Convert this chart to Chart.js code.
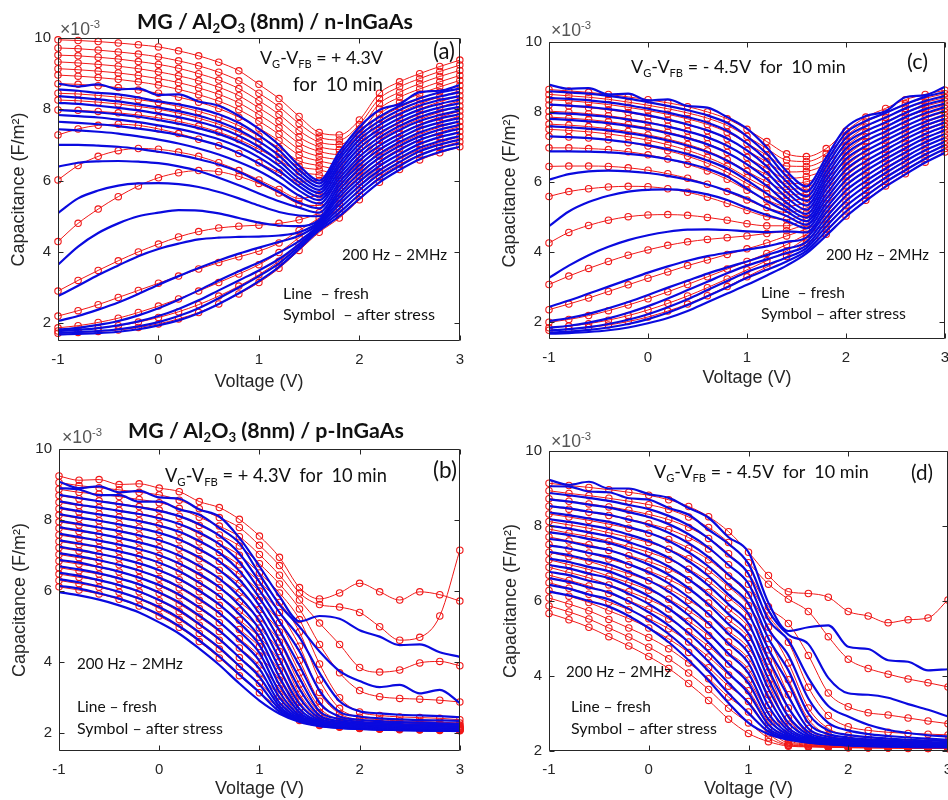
<!DOCTYPE html>
<html>
<head>
<meta charset="utf-8">
<title>C-V after stress</title>
<script src="https://cdn.jsdelivr.net/npm/chart.js@4.4.1/dist/chart.umd.min.js"></script>
<style>
    html, body { margin: 0; padding: 0; width: 948px; height: 800px; overflow: hidden; background: #fff; }
    canvas { position: absolute; }
    .lbl { position: absolute; white-space: nowrap; font-family: Lato, "Open Sans", sans-serif; color: #111; line-height: 1; }
    .lbl sub { font-size: 62%; vertical-align: -0.32em; line-height: 0; }
    .lbl sup { font-size: 64%; vertical-align: 0.6em; line-height: 0; }
    .ttl { font-weight: bold; }
    .exp { font-family: "Liberation Sans", Arial, sans-serif; color: #555; }
</style>
</head>
<body>
<canvas id="panelA" width="474" height="400" style="left:0;top:0"></canvas>
<canvas id="panelC" width="500" height="400" style="left:474px;top:0"></canvas>
<canvas id="panelB" width="474" height="400" style="left:0;top:400px"></canvas>
<canvas id="panelD" width="500" height="400" style="left:474px;top:400px"></canvas>
<script>
// gate voltage sweep (V)
const voltage = [-1, -0.8, -0.6, -0.4, -0.2, 0, 0.2, 0.4, 0.6, 0.8, 1, 1.2, 1.4, 1.6, 1.8, 2, 2.2, 2.4, 2.6, 2.8, 3];
const xTicks = [-1, 0, 1, 2, 3];
const yTicks = [2, 4, 6, 8, 10];

// (a) n-InGaAs, +4.3V stress  (x1e-3 F/m2, 200 Hz ... 2 MHz)
const freshA = [
    [8.72, 8.64, 8.7, 8.56, 8.58, 8.4, 8.42, 8.22, 8.1, 7.82, 7.45, 7.0, 6.42, 6.0, 6.8, 7.5, 7.98, 8.15, 8.48, 8.52, 8.68],
    [8.56, 8.52, 8.46, 8.42, 8.33, 8.22, 8.14, 8.02, 7.86, 7.62, 7.27, 6.85, 6.3, 5.92, 6.69, 7.38, 7.79, 8.09, 8.31, 8.47, 8.58],
    [8.37, 8.33, 8.28, 8.22, 8.14, 8.05, 7.95, 7.82, 7.65, 7.42, 7.1, 6.7, 6.18, 5.83, 6.59, 7.26, 7.67, 7.98, 8.21, 8.36, 8.48],
    [8.18, 8.15, 8.1, 8.04, 7.97, 7.88, 7.78, 7.65, 7.49, 7.26, 6.95, 6.55, 6.06, 5.74, 6.48, 7.15, 7.56, 7.86, 8.1, 8.26, 8.37],
    [7.98, 7.95, 7.91, 7.86, 7.79, 7.7, 7.6, 7.47, 7.31, 7.09, 6.8, 6.42, 5.95, 5.65, 6.38, 7.03, 7.44, 7.75, 7.99, 8.15, 8.27],
    [7.84, 7.81, 7.77, 7.71, 7.64, 7.55, 7.45, 7.32, 7.16, 6.94, 6.65, 6.28, 5.84, 5.55, 6.27, 6.91, 7.33, 7.64, 7.89, 8.05, 8.17],
    [7.65, 7.62, 7.58, 7.53, 7.46, 7.38, 7.28, 7.15, 6.99, 6.77, 6.48, 6.13, 5.72, 5.45, 6.16, 6.79, 7.21, 7.53, 7.78, 7.95, 8.07],
    [7.44, 7.41, 7.37, 7.32, 7.24, 7.15, 7.04, 6.9, 6.73, 6.52, 6.27, 5.95, 5.58, 5.35, 6.06, 6.67, 7.1, 7.42, 7.67, 7.84, 7.97],
    [7.0, 7.0, 6.98, 6.95, 6.89, 6.81, 6.72, 6.6, 6.45, 6.25, 5.97, 5.68, 5.38, 5.22, 5.95, 6.56, 6.98, 7.3, 7.56, 7.74, 7.86],
    [6.39, 6.5, 6.54, 6.55, 6.53, 6.49, 6.4, 6.27, 6.08, 5.87, 5.64, 5.42, 5.24, 5.1, 5.85, 6.44, 6.87, 7.19, 7.46, 7.63, 7.76],
    [5.09, 5.5, 5.72, 5.86, 5.92, 5.93, 5.9, 5.82, 5.68, 5.5, 5.3, 5.12, 5.02, 5.0, 5.74, 6.32, 6.75, 7.08, 7.35, 7.53, 7.66],
    [3.64, 4.15, 4.53, 4.8, 5.0, 5.1, 5.17, 5.16, 5.08, 4.95, 4.82, 4.74, 4.72, 4.9, 5.63, 6.2, 6.64, 6.97, 7.24, 7.43, 7.56],
    [2.76, 3.05, 3.35, 3.62, 3.88, 4.08, 4.23, 4.35, 4.4, 4.42, 4.43, 4.46, 4.55, 4.85, 5.53, 6.08, 6.52, 6.86, 7.14, 7.32, 7.46],
    [2.06, 2.2, 2.38, 2.58, 2.82, 3.08, 3.32, 3.55, 3.76, 3.95, 4.12, 4.28, 4.45, 4.8, 5.42, 5.97, 6.41, 6.74, 7.03, 7.22, 7.35],
    [1.82, 1.87, 1.95, 2.06, 2.22, 2.42, 2.66, 2.92, 3.2, 3.46, 3.7, 3.98, 4.3, 4.75, 5.32, 5.85, 6.29, 6.63, 6.92, 7.11, 7.25],
    [1.78, 1.81, 1.86, 1.94, 2.05, 2.2, 2.4, 2.64, 2.92, 3.2, 3.48, 3.8, 4.22, 4.7, 5.21, 5.73, 6.18, 6.52, 6.82, 7.01, 7.15],
    [1.73, 1.75, 1.78, 1.83, 1.91, 2.03, 2.2, 2.42, 2.7, 3.0, 3.32, 3.68, 4.15, 4.65, 5.1, 5.61, 6.06, 6.41, 6.71, 6.91, 7.05],
    [1.68, 1.7, 1.72, 1.76, 1.83, 1.94, 2.08, 2.28, 2.54, 2.84, 3.18, 3.58, 4.08, 4.6, 5.0, 5.49, 5.95, 6.3, 6.6, 6.8, 6.95]
];
const stressA = [
    [9.95, 9.93, 9.9, 9.86, 9.81, 9.75, 9.64, 9.5, 9.32, 9.08, 8.7, 8.3, 7.8, 7.35, 7.28, 7.7, 8.45, 8.77, 9.0, 9.2, 9.38],
    [9.72, 9.7, 9.66, 9.61, 9.55, 9.47, 9.36, 9.22, 9.04, 8.8, 8.45, 8.07, 7.6, 7.22, 7.14, 7.57, 8.3, 8.63, 8.86, 9.06, 9.24],
    [9.52, 9.5, 9.46, 9.41, 9.34, 9.26, 9.15, 9.0, 8.82, 8.58, 8.24, 7.86, 7.4, 7.08, 7.01, 7.44, 8.16, 8.48, 8.72, 8.92, 9.09],
    [9.33, 9.3, 9.26, 9.21, 9.14, 9.05, 8.94, 8.8, 8.62, 8.38, 8.04, 7.67, 7.22, 6.95, 6.87, 7.3, 8.01, 8.34, 8.57, 8.77, 8.95],
    [9.14, 9.11, 9.07, 9.02, 8.95, 8.86, 8.75, 8.6, 8.42, 8.18, 7.85, 7.48, 7.05, 6.82, 6.73, 7.17, 7.86, 8.19, 8.43, 8.63, 8.81],
    [8.96, 8.93, 8.89, 8.84, 8.77, 8.68, 8.56, 8.41, 8.23, 7.99, 7.67, 7.3, 6.88, 6.68, 6.6, 7.04, 7.72, 8.05, 8.29, 8.49, 8.67],
    [8.72, 8.7, 8.66, 8.61, 8.54, 8.45, 8.34, 8.2, 8.02, 7.78, 7.47, 7.12, 6.72, 6.55, 6.46, 6.91, 7.57, 7.9, 8.15, 8.35, 8.52],
    [8.45, 8.43, 8.39, 8.34, 8.27, 8.19, 8.08, 7.94, 7.77, 7.54, 7.25, 6.92, 6.55, 6.42, 6.32, 6.78, 7.42, 7.76, 8.01, 8.21, 8.38],
    [8.26, 8.24, 8.2, 8.15, 8.08, 8.0, 7.89, 7.75, 7.58, 7.36, 7.08, 6.75, 6.4, 6.3, 6.18, 6.64, 7.27, 7.61, 7.86, 8.06, 8.24],
    [7.98, 7.97, 7.94, 7.9, 7.84, 7.76, 7.66, 7.53, 7.36, 7.15, 6.88, 6.57, 6.25, 6.16, 6.05, 6.51, 7.13, 7.47, 7.72, 7.92, 8.09],
    [7.28, 7.45, 7.55, 7.58, 7.55, 7.45, 7.32, 7.16, 6.98, 6.76, 6.5, 6.22, 5.98, 6.0, 5.91, 6.38, 6.98, 7.32, 7.58, 7.78, 7.95],
    [6.02, 6.42, 6.68, 6.84, 6.9, 6.88, 6.8, 6.68, 6.5, 6.28, 6.02, 5.75, 5.5, 5.6, 5.77, 6.25, 6.83, 7.18, 7.44, 7.64, 7.81],
    [4.29, 4.8, 5.2, 5.55, 5.85, 6.08, 6.22, 6.28, 6.25, 6.12, 5.92, 5.65, 5.35, 5.3, 5.64, 6.12, 6.69, 7.03, 7.3, 7.5, 7.66],
    [2.9, 3.2, 3.48, 3.75, 4.0, 4.22, 4.42, 4.57, 4.67, 4.72, 4.75, 4.8, 4.9, 5.1, 5.5, 5.98, 6.54, 6.89, 7.15, 7.35, 7.52],
    [2.2, 2.35, 2.52, 2.72, 2.92, 3.12, 3.32, 3.52, 3.7, 3.86, 4.02, 4.25, 4.6, 4.95, 5.36, 5.85, 6.39, 6.74, 7.01, 7.21, 7.38],
    [1.87, 1.93, 2.02, 2.14, 2.3, 2.48, 2.68, 2.9, 3.14, 3.38, 3.64, 3.98, 4.4, 4.8, 5.23, 5.72, 6.25, 6.6, 6.87, 7.07, 7.23],
    [1.78, 1.81, 1.86, 1.93, 2.03, 2.16, 2.32, 2.52, 2.76, 3.04, 3.36, 3.74, 4.2, 4.68, 5.09, 5.59, 6.1, 6.45, 6.73, 6.93, 7.09],
    [1.72, 1.74, 1.77, 1.81, 1.88, 1.98, 2.12, 2.3, 2.54, 2.82, 3.14, 3.54, 4.04, 4.55, 4.95, 5.46, 5.95, 6.31, 6.58, 6.78, 6.95]
];

// (c) n-InGaAs, -4.5V stress
const freshC = [
    [8.78, 8.66, 8.68, 8.5, 8.52, 8.33, 8.36, 8.17, 8.12, 7.85, 7.52, 6.98, 6.3, 5.87, 6.7, 7.55, 7.88, 8.02, 8.42, 8.48, 8.72],
    [8.59, 8.56, 8.52, 8.46, 8.38, 8.28, 8.17, 8.05, 7.9, 7.68, 7.3, 6.8, 6.15, 5.72, 6.57, 7.4, 7.74, 7.97, 8.22, 8.43, 8.57],
    [8.4, 8.37, 8.33, 8.27, 8.19, 8.09, 7.98, 7.85, 7.69, 7.46, 7.1, 6.62, 6.0, 5.58, 6.44, 7.25, 7.59, 7.84, 8.1, 8.31, 8.46],
    [8.21, 8.18, 8.14, 8.08, 8.0, 7.9, 7.78, 7.64, 7.47, 7.24, 6.9, 6.44, 5.85, 5.45, 6.3, 7.1, 7.45, 7.7, 7.97, 8.2, 8.35],
    [7.97, 7.95, 7.91, 7.86, 7.78, 7.69, 7.58, 7.44, 7.27, 7.03, 6.7, 6.26, 5.7, 5.32, 6.17, 6.95, 7.31, 7.57, 7.85, 8.08, 8.24],
    [7.8, 7.77, 7.73, 7.68, 7.6, 7.51, 7.39, 7.25, 7.07, 6.83, 6.5, 6.08, 5.55, 5.2, 6.04, 6.8, 7.17, 7.44, 7.72, 7.96, 8.14],
    [7.59, 7.56, 7.52, 7.47, 7.39, 7.3, 7.18, 7.03, 6.85, 6.6, 6.27, 5.88, 5.4, 5.08, 5.91, 6.65, 7.02, 7.31, 7.59, 7.84, 8.03],
    [7.3, 7.28, 7.25, 7.2, 7.13, 7.04, 6.93, 6.79, 6.61, 6.38, 6.04, 5.66, 5.27, 4.97, 5.78, 6.5, 6.88, 7.18, 7.47, 7.72, 7.92],
    [6.87, 6.87, 6.86, 6.84, 6.8, 6.74, 6.65, 6.53, 6.37, 6.15, 5.8, 5.45, 5.15, 4.87, 5.64, 6.35, 6.74, 7.04, 7.34, 7.61, 7.81],
    [6.06, 6.22, 6.3, 6.32, 6.3, 6.25, 6.17, 6.06, 5.92, 5.74, 5.52, 5.25, 5.02, 4.77, 5.51, 6.2, 6.59, 6.91, 7.22, 7.49, 7.7],
    [4.73, 5.15, 5.42, 5.6, 5.72, 5.77, 5.78, 5.74, 5.64, 5.48, 5.25, 5.05, 4.88, 4.67, 5.38, 6.05, 6.45, 6.78, 7.09, 7.37, 7.59],
    [3.25, 3.6, 3.9, 4.14, 4.33, 4.47, 4.57, 4.63, 4.64, 4.62, 4.58, 4.56, 4.58, 4.55, 5.25, 5.9, 6.31, 6.65, 6.96, 7.25, 7.48],
    [2.42, 2.6, 2.8, 3.0, 3.2, 3.4, 3.58, 3.74, 3.87, 3.97, 4.06, 4.15, 4.28, 4.4, 5.12, 5.75, 6.16, 6.52, 6.84, 7.13, 7.37],
    [2.01, 2.1, 2.22, 2.38, 2.56, 2.76, 2.97, 3.17, 3.37, 3.55, 3.72, 3.9, 4.08, 4.28, 4.98, 5.6, 6.02, 6.38, 6.71, 7.02, 7.26],
    [1.82, 1.88, 1.97, 2.09, 2.25, 2.44, 2.66, 2.9, 3.14, 3.38, 3.6, 3.78, 3.96, 4.18, 4.85, 5.45, 5.88, 6.25, 6.59, 6.9, 7.15],
    [1.74, 1.78, 1.84, 1.93, 2.05, 2.21, 2.41, 2.64, 2.9, 3.16, 3.42, 3.62, 3.83, 4.1, 4.72, 5.3, 5.73, 6.12, 6.46, 6.78, 7.05],
    [1.68, 1.71, 1.76, 1.83, 1.93, 2.07, 2.25, 2.47, 2.72, 2.98, 3.25, 3.48, 3.72, 4.02, 4.59, 5.15, 5.59, 5.99, 6.33, 6.66, 6.94],
    [1.65, 1.67, 1.7, 1.75, 1.83, 1.95, 2.1, 2.3, 2.55, 2.8, 3.05, 3.32, 3.6, 3.95, 4.46, 5.0, 5.45, 5.86, 6.21, 6.55, 6.83]
];
const stressC = [
    [8.64, 8.6, 8.56, 8.5, 8.43, 8.35, 8.26, 8.15, 8.0, 7.8, 7.5, 7.15, 6.8, 6.72, 6.95, 7.45, 7.85, 8.1, 8.35, 8.5, 8.62],
    [8.5, 8.46, 8.42, 8.36, 8.28, 8.19, 8.09, 7.97, 7.82, 7.61, 7.3, 6.95, 6.62, 6.58, 6.81, 7.31, 7.71, 7.97, 8.23, 8.39, 8.52],
    [8.35, 8.32, 8.27, 8.21, 8.13, 8.04, 7.93, 7.8, 7.64, 7.42, 7.1, 6.76, 6.45, 6.44, 6.66, 7.16, 7.57, 7.84, 8.1, 8.27, 8.41],
    [8.2, 8.17, 8.12, 8.06, 7.98, 7.88, 7.77, 7.63, 7.46, 7.23, 6.9, 6.57, 6.28, 6.3, 6.52, 7.02, 7.43, 7.71, 7.98, 8.16, 8.31],
    [8.02, 7.99, 7.95, 7.89, 7.81, 7.71, 7.59, 7.45, 7.27, 7.03, 6.7, 6.38, 6.1, 6.15, 6.37, 6.88, 7.29, 7.58, 7.85, 8.04, 8.2],
    [7.85, 7.82, 7.78, 7.72, 7.64, 7.54, 7.42, 7.27, 7.09, 6.84, 6.5, 6.2, 5.94, 6.0, 6.23, 6.74, 7.15, 7.45, 7.73, 7.93, 8.1],
    [7.65, 7.62, 7.58, 7.52, 7.44, 7.34, 7.22, 7.07, 6.88, 6.63, 6.3, 6.0, 5.78, 5.85, 6.09, 6.59, 7.01, 7.31, 7.6, 7.82, 8.0],
    [7.5, 7.47, 7.43, 7.37, 7.29, 7.19, 7.06, 6.9, 6.7, 6.45, 6.12, 5.83, 5.62, 5.7, 5.94, 6.45, 6.87, 7.18, 7.48, 7.7, 7.89],
    [7.3, 7.28, 7.25, 7.2, 7.12, 7.02, 6.89, 6.73, 6.53, 6.27, 5.95, 5.66, 5.46, 5.55, 5.8, 6.31, 6.73, 7.05, 7.35, 7.59, 7.79],
    [6.97, 6.97, 6.95, 6.92, 6.86, 6.77, 6.65, 6.5, 6.31, 6.07, 5.76, 5.48, 5.3, 5.4, 5.65, 6.16, 6.59, 6.92, 7.23, 7.47, 7.68],
    [6.44, 6.45, 6.45, 6.44, 6.4, 6.33, 6.23, 6.1, 5.93, 5.72, 5.48, 5.26, 5.12, 5.25, 5.51, 6.02, 6.45, 6.79, 7.1, 7.36, 7.58],
    [5.58, 5.72, 5.8, 5.85, 5.87, 5.86, 5.8, 5.7, 5.56, 5.38, 5.18, 5.0, 4.92, 5.1, 5.37, 5.88, 6.31, 6.66, 6.98, 7.25, 7.48],
    [4.25, 4.55, 4.75, 4.9, 5.0, 5.05, 5.06, 5.04, 4.98, 4.9, 4.8, 4.74, 4.74, 4.95, 5.22, 5.73, 6.17, 6.53, 6.85, 7.13, 7.37],
    [3.06, 3.3, 3.52, 3.72, 3.9, 4.05, 4.18, 4.28, 4.35, 4.4, 4.45, 4.52, 4.6, 4.8, 5.08, 5.59, 6.03, 6.4, 6.73, 7.02, 7.27],
    [2.34, 2.5, 2.67, 2.86, 3.05, 3.24, 3.42, 3.6, 3.76, 3.92, 4.08, 4.25, 4.45, 4.65, 4.93, 5.45, 5.89, 6.27, 6.6, 6.9, 7.16],
    [1.98, 2.06, 2.17, 2.31, 2.47, 2.65, 2.85, 3.06, 3.28, 3.5, 3.72, 3.95, 4.2, 4.5, 4.79, 5.31, 5.75, 6.14, 6.48, 6.79, 7.06],
    [1.82, 1.87, 1.94, 2.04, 2.17, 2.33, 2.52, 2.73, 2.97, 3.22, 3.48, 3.74, 4.02, 4.38, 4.64, 5.16, 5.61, 6.01, 6.35, 6.67, 6.95],
    [1.75, 1.78, 1.83, 1.9, 2.0, 2.13, 2.3, 2.5, 2.74, 3.0, 3.28, 3.56, 3.86, 4.25, 4.5, 5.02, 5.47, 5.88, 6.23, 6.56, 6.85]
];

// (b) p-InGaAs, +4.3V stress
const freshB = [
    [9.08, 8.9, 8.95, 8.78, 8.82, 8.64, 8.6, 8.3, 8.1, 7.5, 6.7, 5.85, 5.15, 5.3, 5.22, 4.9, 4.72, 4.48, 4.5, 4.28, 4.15],
    [8.9, 8.86, 8.7, 8.7, 8.52, 8.52, 8.3, 8.15, 7.78, 7.35, 6.48, 5.62, 5.0, 4.3, 3.75, 3.47, 3.3, 3.36, 3.12, 3.22, 2.85],
    [8.71, 8.62, 8.53, 8.45, 8.36, 8.26, 8.11, 7.88, 7.56, 7.06, 6.26, 5.4, 4.7, 3.7, 2.9, 2.62, 2.56, 2.52, 2.5, 2.48, 2.45],
    [8.53, 8.43, 8.35, 8.26, 8.17, 8.05, 7.89, 7.65, 7.32, 6.82, 6.03, 5.15, 4.3, 3.2, 2.6, 2.47, 2.42, 2.39, 2.37, 2.36, 2.35],
    [8.35, 8.25, 8.16, 8.07, 7.97, 7.84, 7.67, 7.41, 7.08, 6.57, 5.81, 4.9, 3.9, 2.85, 2.47, 2.38, 2.34, 2.31, 2.3, 2.28, 2.27],
    [8.17, 8.07, 7.98, 7.88, 7.77, 7.64, 7.45, 7.18, 6.84, 6.33, 5.59, 4.62, 3.55, 2.62, 2.4, 2.32, 2.29, 2.26, 2.25, 2.24, 2.22],
    [7.98, 7.89, 7.79, 7.69, 7.57, 7.43, 7.22, 6.95, 6.59, 6.09, 5.37, 4.35, 3.25, 2.5, 2.34, 2.28, 2.25, 2.23, 2.22, 2.21, 2.19],
    [7.8, 7.71, 7.61, 7.5, 7.37, 7.22, 7.0, 6.71, 6.35, 5.84, 5.15, 4.08, 3.0, 2.42, 2.3, 2.25, 2.22, 2.2, 2.19, 2.18, 2.17],
    [7.62, 7.52, 7.42, 7.31, 7.18, 7.01, 6.78, 6.48, 6.11, 5.6, 4.92, 3.82, 2.82, 2.36, 2.26, 2.22, 2.2, 2.18, 2.17, 2.16, 2.15],
    [7.43, 7.34, 7.24, 7.12, 6.98, 6.8, 6.56, 6.24, 5.86, 5.35, 4.7, 3.58, 2.68, 2.32, 2.23, 2.2, 2.18, 2.16, 2.15, 2.14, 2.13],
    [7.25, 7.16, 7.05, 6.93, 6.78, 6.59, 6.34, 6.01, 5.62, 5.11, 4.48, 3.36, 2.58, 2.29, 2.21, 2.18, 2.16, 2.15, 2.14, 2.13, 2.12],
    [7.07, 6.98, 6.87, 6.74, 6.58, 6.38, 6.12, 5.78, 5.38, 4.87, 4.26, 3.16, 2.5, 2.27, 2.2, 2.17, 2.15, 2.14, 2.13, 2.12, 2.11],
    [6.88, 6.8, 6.68, 6.55, 6.38, 6.17, 5.9, 5.54, 5.13, 4.62, 4.04, 3.0, 2.45, 2.25, 2.19, 2.16, 2.14, 2.13, 2.12, 2.11, 2.1],
    [6.7, 6.61, 6.5, 6.36, 6.19, 5.96, 5.68, 5.31, 4.89, 4.38, 3.81, 2.86, 2.41, 2.24, 2.18, 2.15, 2.13, 2.12, 2.11, 2.1, 2.09],
    [6.52, 6.43, 6.31, 6.17, 5.99, 5.75, 5.46, 5.07, 4.65, 4.13, 3.59, 2.76, 2.38, 2.23, 2.17, 2.14, 2.12, 2.11, 2.1, 2.09, 2.08],
    [6.34, 6.25, 6.13, 5.98, 5.79, 5.55, 5.24, 4.84, 4.41, 3.89, 3.37, 2.68, 2.36, 2.22, 2.16, 2.13, 2.11, 2.1, 2.09, 2.08, 2.07],
    [6.15, 6.07, 5.94, 5.79, 5.59, 5.34, 5.01, 4.61, 4.16, 3.65, 3.15, 2.61, 2.34, 2.21, 2.15, 2.12, 2.1, 2.09, 2.08, 2.07, 2.07],
    [5.97, 5.88, 5.76, 5.6, 5.4, 5.12, 4.8, 4.38, 3.92, 3.4, 2.92, 2.55, 2.32, 2.2, 2.15, 2.12, 2.1, 2.09, 2.08, 2.07, 2.06]
];
const stressB = [
    [9.24, 9.12, 9.14, 9.0, 9.02, 8.9, 8.8, 8.52, 8.35, 8.02, 7.55, 6.95, 6.1, 5.78, 5.95, 6.22, 5.98, 5.75, 5.98, 5.9, 5.72],
    [9.06, 8.97, 8.91, 8.85, 8.78, 8.71, 8.56, 8.32, 8.07, 7.79, 7.29, 6.72, 5.95, 5.62, 5.55, 5.4, 5.0, 4.62, 4.7, 5.3, 7.15],
    [8.87, 8.78, 8.73, 8.66, 8.58, 8.49, 8.33, 8.08, 7.83, 7.53, 7.03, 6.45, 5.75, 5.1, 4.5, 3.85, 3.72, 3.78, 3.98, 4.02, 3.9],
    [8.69, 8.6, 8.54, 8.46, 8.38, 8.28, 8.11, 7.85, 7.58, 7.27, 6.77, 6.2, 5.5, 4.5, 3.7, 3.2, 3.03, 2.98, 2.96, 2.93, 2.88],
    [8.5, 8.41, 8.35, 8.27, 8.18, 8.07, 7.88, 7.61, 7.33, 7.01, 6.51, 5.95, 5.2, 3.95, 3.0, 2.6, 2.5, 2.46, 2.44, 2.42, 2.38],
    [8.32, 8.23, 8.17, 8.08, 7.98, 7.86, 7.66, 7.38, 7.09, 6.74, 6.26, 5.68, 4.85, 3.5, 2.7, 2.45, 2.38, 2.35, 2.33, 2.31, 2.29],
    [8.14, 8.05, 7.98, 7.89, 7.78, 7.64, 7.44, 7.15, 6.84, 6.48, 6.0, 5.4, 4.45, 3.15, 2.55, 2.38, 2.32, 2.29, 2.27, 2.25, 2.23],
    [7.95, 7.86, 7.79, 7.7, 7.58, 7.43, 7.21, 6.91, 6.59, 6.22, 5.74, 5.12, 4.05, 2.9, 2.45, 2.33, 2.28, 2.25, 2.23, 2.21, 2.2],
    [7.77, 7.68, 7.6, 7.5, 7.38, 7.22, 6.99, 6.68, 6.34, 5.96, 5.48, 4.85, 3.7, 2.72, 2.38, 2.29, 2.25, 2.22, 2.2, 2.19, 2.18],
    [7.58, 7.49, 7.42, 7.31, 7.18, 7.0, 6.76, 6.44, 6.1, 5.7, 5.22, 4.57, 3.38, 2.58, 2.33, 2.26, 2.22, 2.2, 2.18, 2.17, 2.16],
    [7.4, 7.31, 7.23, 7.12, 6.98, 6.79, 6.54, 6.21, 5.85, 5.44, 4.96, 4.3, 3.1, 2.48, 2.29, 2.23, 2.2, 2.18, 2.16, 2.15, 2.14],
    [7.22, 7.13, 7.04, 6.93, 6.78, 6.58, 6.32, 5.98, 5.6, 5.18, 4.7, 4.02, 2.88, 2.4, 2.26, 2.21, 2.18, 2.16, 2.15, 2.14, 2.13],
    [7.03, 6.94, 6.86, 6.74, 6.58, 6.36, 6.09, 5.74, 5.36, 4.92, 4.44, 3.76, 2.7, 2.35, 2.24, 2.19, 2.16, 2.15, 2.14, 2.13, 2.12],
    [6.85, 6.76, 6.67, 6.54, 6.38, 6.15, 5.87, 5.51, 5.11, 4.66, 4.18, 3.5, 2.58, 2.31, 2.22, 2.17, 2.15, 2.14, 2.13, 2.12, 2.11],
    [6.66, 6.57, 6.48, 6.35, 6.18, 5.94, 5.64, 5.27, 4.86, 4.4, 3.92, 3.26, 2.5, 2.28, 2.2, 2.16, 2.14, 2.13, 2.12, 2.11, 2.1],
    [6.48, 6.39, 6.3, 6.16, 5.98, 5.73, 5.42, 5.04, 4.62, 4.13, 3.67, 3.05, 2.44, 2.26, 2.19, 2.15, 2.13, 2.12, 2.11, 2.1, 2.09],
    [6.3, 6.21, 6.11, 5.97, 5.78, 5.51, 5.2, 4.81, 4.37, 3.87, 3.41, 2.88, 2.4, 2.24, 2.18, 2.14, 2.12, 2.11, 2.1, 2.09, 2.08],
    [6.12, 6.03, 5.92, 5.77, 5.58, 5.3, 4.98, 4.58, 4.12, 3.62, 3.14, 2.72, 2.36, 2.22, 2.17, 2.13, 2.11, 2.1, 2.09, 2.08, 2.07]
];

// (d) p-InGaAs, -4.5V stress
const freshD = [
    [9.23, 9.1, 9.18, 9.0, 9.0, 8.85, 8.75, 8.48, 8.22, 7.7, 7.3, 5.95, 5.2, 5.3, 5.35, 4.78, 4.72, 4.42, 4.38, 4.15, 4.18],
    [9.06, 9.05, 8.92, 8.9, 8.74, 8.7, 8.48, 8.3, 7.9, 7.52, 6.99, 5.75, 5.1, 4.85, 3.95, 3.54, 3.5, 3.42, 3.25, 3.1, 2.92],
    [8.88, 8.82, 8.75, 8.67, 8.56, 8.45, 8.27, 8.02, 7.67, 7.22, 6.72, 5.5, 4.95, 3.95, 3.2, 2.92, 2.7, 2.56, 2.48, 2.42, 2.39],
    [8.71, 8.65, 8.57, 8.49, 8.37, 8.24, 8.05, 7.78, 7.42, 6.96, 6.46, 5.25, 4.55, 3.4, 2.75, 2.55, 2.45, 2.4, 2.36, 2.33, 2.3],
    [8.53, 8.47, 8.38, 8.3, 8.17, 8.03, 7.82, 7.54, 7.17, 6.7, 6.19, 5.0, 4.15, 3.0, 2.55, 2.43, 2.37, 2.33, 2.3, 2.28, 2.26],
    [8.36, 8.29, 8.2, 8.11, 7.97, 7.82, 7.6, 7.3, 6.92, 6.44, 5.93, 4.72, 3.8, 2.75, 2.45, 2.36, 2.31, 2.28, 2.26, 2.24, 2.22],
    [8.18, 8.11, 8.02, 7.92, 7.77, 7.6, 7.37, 7.06, 6.66, 6.17, 5.66, 4.45, 3.45, 2.6, 2.38, 2.31, 2.27, 2.25, 2.23, 2.21, 2.2],
    [8.01, 7.93, 7.83, 7.73, 7.57, 7.39, 7.15, 6.82, 6.41, 5.91, 5.4, 4.18, 3.15, 2.5, 2.33, 2.28, 2.24, 2.22, 2.2, 2.19, 2.18],
    [7.83, 7.76, 7.65, 7.55, 7.38, 7.18, 6.92, 6.58, 6.16, 5.65, 5.13, 3.92, 2.92, 2.43, 2.3, 2.25, 2.22, 2.2, 2.18, 2.17, 2.16],
    [7.66, 7.58, 7.46, 7.36, 7.18, 6.97, 6.7, 6.34, 5.9, 5.38, 4.87, 3.66, 2.75, 2.38, 2.27, 2.23, 2.2, 2.18, 2.17, 2.16, 2.15],
    [7.48, 7.4, 7.28, 7.17, 6.98, 6.76, 6.47, 6.1, 5.65, 5.12, 4.6, 3.42, 2.62, 2.34, 2.25, 2.21, 2.18, 2.17, 2.16, 2.15, 2.14],
    [7.31, 7.22, 7.1, 6.98, 6.78, 6.55, 6.25, 5.86, 5.4, 4.86, 4.34, 3.2, 2.54, 2.31, 2.23, 2.2, 2.17, 2.16, 2.15, 2.14, 2.13],
    [7.13, 7.04, 6.91, 6.79, 6.58, 6.34, 6.02, 5.62, 5.14, 4.59, 4.07, 3.0, 2.47, 2.28, 2.22, 2.19, 2.16, 2.15, 2.14, 2.13, 2.12],
    [6.96, 6.87, 6.73, 6.61, 6.39, 6.13, 5.8, 5.38, 4.89, 4.33, 3.81, 2.84, 2.42, 2.26, 2.21, 2.18, 2.15, 2.14, 2.13, 2.12, 2.11],
    [6.78, 6.69, 6.54, 6.42, 6.19, 5.92, 5.57, 5.14, 4.64, 4.07, 3.54, 2.7, 2.38, 2.25, 2.2, 2.17, 2.14, 2.13, 2.12, 2.11, 2.11],
    [6.61, 6.51, 6.36, 6.23, 5.99, 5.7, 5.35, 4.9, 4.38, 3.81, 3.28, 2.6, 2.35, 2.24, 2.19, 2.16, 2.14, 2.13, 2.12, 2.11, 2.1],
    [6.43, 6.33, 6.17, 6.04, 5.79, 5.49, 5.12, 4.66, 4.13, 3.54, 3.01, 2.52, 2.32, 2.23, 2.18, 2.15, 2.13, 2.12, 2.11, 2.1, 2.1],
    [6.25, 6.15, 6.0, 5.85, 5.6, 5.28, 4.9, 4.42, 3.88, 3.28, 2.75, 2.45, 2.3, 2.22, 2.18, 2.15, 2.13, 2.12, 2.11, 2.1, 2.1]
];
const stressD = [
    [9.14, 9.08, 9.03, 8.97, 8.9, 8.82, 8.7, 8.52, 8.25, 7.85, 7.3, 6.68, 6.25, 6.2, 6.1, 5.72, 5.6, 5.42, 5.5, 5.55, 6.03],
    [8.94, 8.87, 8.81, 8.74, 8.66, 8.57, 8.44, 8.24, 7.96, 7.56, 7.02, 6.45, 6.05, 5.72, 5.05, 4.45, 4.2, 4.05, 3.92, 3.82, 3.71],
    [8.73, 8.66, 8.59, 8.51, 8.42, 8.31, 8.17, 7.96, 7.67, 7.26, 6.73, 5.85, 5.4, 4.55, 3.55, 3.18, 3.02, 2.96, 2.88, 2.8, 2.73],
    [8.53, 8.45, 8.37, 8.28, 8.18, 8.06, 7.91, 7.69, 7.39, 6.97, 6.45, 5.6, 4.9, 3.7, 2.95, 2.65, 2.55, 2.5, 2.47, 2.45, 2.43],
    [8.32, 8.24, 8.15, 8.05, 7.94, 7.81, 7.64, 7.41, 7.1, 6.67, 6.16, 5.3, 4.35, 3.15, 2.6, 2.42, 2.36, 2.33, 2.3, 2.28, 2.27],
    [8.12, 8.03, 7.94, 7.82, 7.7, 7.56, 7.38, 7.13, 6.81, 6.38, 5.88, 5.0, 3.9, 2.85, 2.42, 2.32, 2.28, 2.25, 2.23, 2.22, 2.21],
    [7.92, 7.81, 7.72, 7.59, 7.45, 7.3, 7.11, 6.85, 6.52, 6.09, 5.6, 4.7, 3.5, 2.6, 2.32, 2.26, 2.23, 2.21, 2.2, 2.19, 2.18],
    [7.71, 7.6, 7.5, 7.35, 7.21, 7.05, 6.85, 6.57, 6.23, 5.79, 5.31, 4.4, 3.15, 2.45, 2.26, 2.22, 2.2, 2.18, 2.17, 2.16, 2.15],
    [7.51, 7.39, 7.28, 7.12, 6.97, 6.8, 6.58, 6.3, 5.95, 5.5, 5.03, 4.1, 2.88, 2.35, 2.22, 2.19, 2.17, 2.16, 2.15, 2.14, 2.13],
    [7.3, 7.18, 7.06, 6.89, 6.73, 6.54, 6.32, 6.02, 5.66, 5.2, 4.74, 3.8, 2.66, 2.28, 2.19, 2.17, 2.15, 2.14, 2.13, 2.12, 2.12],
    [7.1, 6.97, 6.84, 6.66, 6.49, 6.29, 6.05, 5.74, 5.37, 4.91, 4.46, 3.5, 2.5, 2.23, 2.17, 2.15, 2.14, 2.13, 2.12, 2.11, 2.11],
    [6.9, 6.76, 6.62, 6.43, 6.25, 6.04, 5.79, 5.46, 5.08, 4.62, 4.18, 3.22, 2.38, 2.2, 2.15, 2.14, 2.13, 2.12, 2.11, 2.1, 2.1],
    [6.69, 6.55, 6.4, 6.2, 6.01, 5.78, 5.52, 5.18, 4.79, 4.32, 3.89, 2.97, 2.3, 2.18, 2.14, 2.13, 2.12, 2.11, 2.1, 2.1, 2.09],
    [6.49, 6.34, 6.18, 5.97, 5.77, 5.53, 5.26, 4.91, 4.51, 4.03, 3.61, 2.76, 2.24, 2.16, 2.13, 2.12, 2.11, 2.1, 2.09, 2.09, 2.08],
    [6.28, 6.13, 5.96, 5.74, 5.53, 5.28, 4.99, 4.63, 4.22, 3.73, 3.32, 2.6, 2.2, 2.14, 2.12, 2.11, 2.1, 2.09, 2.09, 2.08, 2.08],
    [6.08, 5.92, 5.74, 5.51, 5.28, 5.03, 4.73, 4.35, 3.93, 3.44, 3.04, 2.46, 2.17, 2.13, 2.11, 2.1, 2.09, 2.09, 2.08, 2.08, 2.07],
    [5.87, 5.71, 5.52, 5.28, 5.04, 4.77, 4.46, 4.08, 3.64, 3.14, 2.75, 2.35, 2.15, 2.12, 2.1, 2.09, 2.09, 2.08, 2.08, 2.07, 2.07],
    [5.67, 5.5, 5.3, 5.05, 4.8, 4.52, 4.2, 3.8, 3.35, 2.85, 2.47, 2.25, 2.13, 2.11, 2.1, 2.09, 2.08, 2.08, 2.07, 2.07, 2.07]
];

// colours and fonts
const BLUE = '#0a0adf';
const RED = '#f01818';
const INK = '#262626';
const tickFont = { family: '"Liberation Sans", Arial, sans-serif', size: 15 };
const axisFont = { family: '"Liberation Sans", Arial, sans-serif', size: 18 };

// MATLAB style box with inward ticks
const boxPlugin = {
    id: 'matlabBox',
    afterDatasetsDraw(chart) {
        const { ctx, chartArea: a, scales: { x, y } } = chart;
        const L = Math.round(a.left) + 0.5, R = Math.round(a.right) - 0.5;
        const T = Math.round(a.top) + 0.5, B = Math.round(a.bottom) - 0.5;
        ctx.save();
        ctx.strokeStyle = INK;
        ctx.lineWidth = 1;
        ctx.beginPath();
        ctx.rect(L, T, R - L, B - T);
        x.ticks.forEach(t => {
            const px = Math.round(x.getPixelForValue(t.value)) + 0.5;
            ctx.moveTo(px, B); ctx.lineTo(px, B - 5);
            ctx.moveTo(px, T); ctx.lineTo(px, T + 5);
        });
        y.ticks.forEach(t => {
            const py = Math.round(y.getPixelForValue(t.value)) + 0.5;
            ctx.moveTo(L, py); ctx.lineTo(L + 5, py);
            ctx.moveTo(R, py); ctx.lineTo(R - 5, py);
        });
        ctx.stroke();
        ctx.restore();
    }
};

function buildDatasets(fresh, stress) {
    const sets = [];
    // lines first so they sit above the symbols
    fresh.forEach(row => sets.push({
        data: row.map((c, i) => ({ x: voltage[i], y: c })),
        borderColor: BLUE,
        borderWidth: 2.2,
        pointRadius: 0,
        cubicInterpolationMode: 'monotone'
    }));
    stress.forEach(row => sets.push({
        data: row.map((c, i) => ({ x: voltage[i], y: c })),
        borderColor: RED,
        borderWidth: 1,
        pointRadius: 3.2,
        pointBorderWidth: 1.1,
        pointBorderColor: RED,
        pointBackgroundColor: 'rgba(255,255,255,0)',
        cubicInterpolationMode: 'monotone',
        clip: false
    }));
    return sets;
}

function drawPanel(p) {
    const canvas = document.getElementById(p.id);
    new Chart(canvas, {
        type: 'line',
        data: { datasets: buildDatasets(p.fresh, p.stress) },
        options: {
            responsive: false,
            animation: false,
            devicePixelRatio: 1,
            events: [],
            layout: { padding: { left: 0, top: p.top, right: canvas.width - p.right, bottom: 0 } },
            plugins: { legend: { display: false }, tooltip: { enabled: false } },
            scales: {
                x: {
                    type: 'linear', min: -1, max: 3,
                    afterBuildTicks: s => { s.ticks = xTicks.map(v => ({ value: v })); },
                    afterFit: s => { s.height = canvas.height - p.bottom; },
                    grid: { display: false, drawTicks: false },
                    border: { display: false },
                    ticks: { padding: 10, color: INK, font: tickFont, maxRotation: 0, autoSkip: false },
                    title: { display: true, text: 'Voltage (V)', color: INK, font: axisFont, padding: { top: 0, bottom: p.xPad } }
                },
                y: {
                    type: 'linear', min: p.yMin, max: 10,
                    afterBuildTicks: s => { s.ticks = yTicks.map(v => ({ value: v })); },
                    afterFit: s => { s.width = p.left; },
                    grid: { display: false, drawTicks: false },
                    border: { display: false },
                    ticks: { padding: 7, color: INK, font: tickFont, autoSkip: false },
                    title: { display: true, text: 'Capacitance (F/m²)', color: INK, font: axisFont, padding: { top: p.yPad, bottom: 0 } }
                }
            }
        },
        plugins: [boxPlugin]
    });
}

drawPanel({ id: 'panelA', fresh: freshA, stress: stressA, yMin: 1.5, left: 58, right: 461, top: 38, bottom: 341, xPad: 7.5, yPad: 8.5 });
drawPanel({ id: 'panelC', fresh: freshC, stress: stressC, yMin: 1.5, left: 75, right: 471, top: 42, bottom: 339, xPad: 11.5, yPad: 25.5 });
drawPanel({ id: 'panelB', fresh: freshB, stress: stressB, yMin: 1.5, left: 59, right: 461, top: 49, bottom: 351, xPad: 0, yPad: 9.5 });
drawPanel({ id: 'panelD', fresh: freshD, stress: stressD, yMin: 2, left: 75, right: 474, top: 51, bottom: 351, xPad: 0, yPad: 26.5 });

// annotations: page position (left, vertical centre) and target width
const notes = [
    { html: 'MG / Al<sub>2</sub>O<sub>3</sub> (8nm) / n-InGaAs', cls: 'ttl', x: 137, y: 22, w: 276, size: 20 },
    { html: '×10<sup>-3</sup>', cls: 'exp', x: 60, y: 30, w: 40, size: 14 },
    { html: 'V<sub>G</sub>-V<sub>FB</sub> = + 4.3V', x: 260, y: 58, w: 123, size: 18 },
    { html: 'for&nbsp; 10 min', x: 293, y: 84, w: 90, size: 18 },
    { html: '(a)', x: 433, y: 51, w: 22, size: 18 },
    { html: '200 Hz – 2MHz', x: 342, y: 254, w: 105, size: 15 },
    { html: 'Line&nbsp; – fresh', x: 283, y: 293, w: 86, size: 15 },
    { html: 'Symbol&nbsp; – after stress', x: 283, y: 314, w: 152, size: 15 },

    { html: '×10<sup>-3</sup>', cls: 'exp', x: 551, y: 31, w: 40, size: 14 },
    { html: 'V<sub>G</sub>-V<sub>FB</sub> = - 4.5V&nbsp; for&nbsp; 10 min', x: 631, y: 67, w: 215, size: 18 },
    { html: '(c)', x: 907, y: 62, w: 21, size: 18 },
    { html: '200 Hz – 2MHz', x: 826, y: 254, w: 103, size: 15 },
    { html: 'Line&nbsp; – fresh', x: 761, y: 293, w: 84, size: 15 },
    { html: 'Symbol – after stress', x: 761, y: 313, w: 145, size: 15 },

    { html: 'MG / Al<sub>2</sub>O<sub>3</sub> (8nm) / p-InGaAs', cls: 'ttl', x: 128, y: 431, w: 276, size: 20 },
    { html: '×10<sup>-3</sup>', cls: 'exp', x: 62, y: 438, w: 40, size: 14 },
    { html: 'V<sub>G</sub>-V<sub>FB</sub> = + 4.3V&nbsp; for&nbsp; 10 min', x: 165, y: 475, w: 222, size: 18 },
    { html: '(b)', x: 433, y: 470, w: 24, size: 18 },
    { html: '200 Hz – 2MHz', x: 77, y: 664, w: 106, size: 15 },
    { html: 'Line – fresh', x: 77, y: 707, w: 80, size: 15 },
    { html: 'Symbol – after stress', x: 77, y: 728, w: 146, size: 15 },

    { html: '×10<sup>-3</sup>', cls: 'exp', x: 551, y: 442, w: 40, size: 14 },
    { html: 'V<sub>G</sub>-V<sub>FB</sub> = - 4.5V&nbsp; for&nbsp; 10 min', x: 654, y: 472, w: 215, size: 18 },
    { html: '(d)', x: 911, y: 472, w: 22, size: 18 },
    { html: '200 Hz – 2MHz', x: 566, y: 671, w: 105, size: 15 },
    { html: 'Line – fresh', x: 571, y: 707, w: 80, size: 15 },
    { html: 'Symbol – after stress', x: 571, y: 728, w: 146, size: 15 }
];

notes.forEach(n => {
    const el = document.createElement('div');
    el.className = 'lbl' + (n.cls ? ' ' + n.cls : '');
    el.innerHTML = n.html;
    el.style.fontSize = n.size + 'px';
    document.body.appendChild(el);
    // scale the font so the text spans the same width as in the figure
    const fs = n.size * n.w / el.getBoundingClientRect().width;
    el.style.fontSize = fs.toFixed(2) + 'px';
    el.style.left = n.x + 'px';
    el.style.top = (n.y - el.getBoundingClientRect().height / 2) + 'px';
});
</script>
</body>
</html>
